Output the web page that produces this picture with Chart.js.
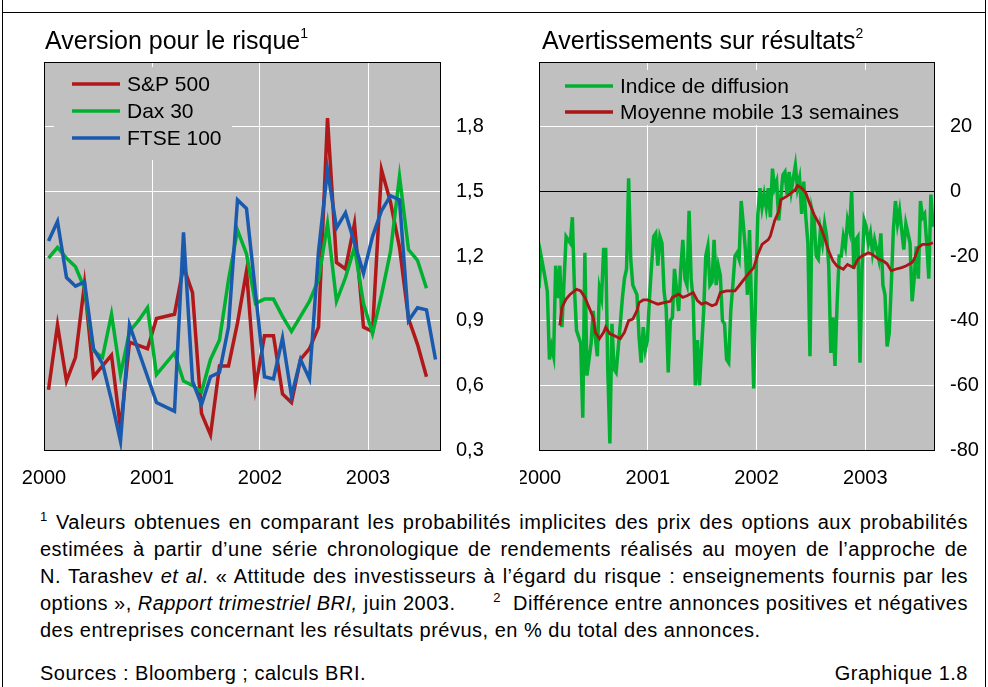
<!DOCTYPE html>
<html lang="fr">
<head>
<meta charset="utf-8">
<title>Graphique 1.8</title>
<script src="https://cdn.jsdelivr.net/npm/chart.js@4.4.1/dist/chart.umd.min.js"></script>
<style>
  html, body { margin: 0; padding: 0; background: #fff; }
  body { width: 988px; height: 687px; position: relative; overflow: hidden;
         font-family: "Liberation Sans", Arial, sans-serif; color: #000; }
  .vline { position: absolute; top: 0; width: 1px; height: 687px; background: #000; }
  .hline { position: absolute; top: 12px; left: 2px; width: 984px; height: 1px; background: #000; }
  .title { position: absolute; top: 25px; font-size: 25px; line-height: 30px; white-space: nowrap; z-index: 2; }
  .title sup { font-size: 14px; line-height: 0; vertical-align: 11px; }
  canvas { position: absolute; }
  .notes { position: absolute; left: 40px; top: 509px; width: 928px; font-size: 20px; line-height: 27px; letter-spacing: 0.5px; }
  .notes .j { text-align: justify; text-align-last: justify; }
  .notes .split { display: flex; justify-content: space-between; white-space: nowrap; }
  .notes sup { font-size: 13px; line-height: 0; vertical-align: 8px; }
  .foot { position: absolute; top: 660px; font-size: 20px; line-height: 27px; letter-spacing: 0.5px; white-space: nowrap; }
</style>
</head>
<body>
<div class="vline" style="left:2px"></div>
<div class="vline" style="left:985px"></div>
<div class="hline"></div>

<div class="title" style="left:45px">Aversion pour le risque<sup>1</sup></div>
<div class="title" style="left:542px">Avertissements sur résultats<sup>2</sup></div>

<canvas id="risk" width="500" height="450" style="left:20px; top:50px"></canvas>
<canvas id="warn" width="468" height="450" style="left:520px; top:50px"></canvas>

<div class="notes">
  <div class="j"><sup>1</sup> Valeurs obtenues en comparant les probabilités implicites des prix des options aux probabilités</div>
  <div class="j">estimées à partir d’une série chronologique de rendements réalisés au moyen de l’approche de</div>
  <div class="j">N. Tarashev <i>et al</i>. « Attitude des investisseurs à l’égard du risque : enseignements fournis par les</div>
  <div class="split"><span>options », <i>Rapport trimestriel BRI,</i> juin 2003.</span><span><sup>2</sup>&nbsp; Différence entre annonces positives et négatives</span></div>
  <div>des entreprises concernant les résultats prévus, en % du total des annonces.</div>
</div>
<div class="foot" style="left:40px">Sources : Bloomberg ; calculs BRI.</div>
<div class="foot" style="right:20px">Graphique 1.8</div>

<script>
// aversion pour le risque, une valeur par mois depuis janvier 2000 (null = pas de point lisible)
const spx = [0.58, 0.88, 0.62, 0.73, 1.07, 0.64, 0.69, 0.74, 0.40, 0.80, null, 0.77,
  0.91, null, 0.93, 1.15, 1.03, 0.47, 0.37, 0.69, 0.69, 0.89, 1.13, 0.59,
  0.83, 0.83, 0.56, 0.52, 0.72, 0.77, 0.87, 1.84, 1.17, 1.14, 1.35, 0.87,
  0.85, 1.60, 1.45, 1.24, 0.91, 0.79, 0.64];
const dax = [1.19, 1.24, 1.19, 1.15, 1.05, 0.76, 0.73, 0.93, 0.65, 0.85, 0.90, 0.96,
  0.65, null, 0.75, 0.62, 0.60, 0.57, 0.72, 0.81, 1.09, 1.32, 1.21, 0.98,
  1.00, 1.00, 0.92, 0.85, 0.92, 0.99, 1.09, 1.35, 0.99, 1.10, 1.24, 0.98,
  0.84, 1.02, 1.22, 1.57, 1.23, 1.18, 1.05];
const ftse = [1.27, 1.36, 1.10, 1.06, 1.08, 0.77, 0.70, 0.53, 0.34, 0.88, null, null,
  0.52, null, 0.48, 1.31, 0.62, 0.51, 0.64, 0.66, 0.87, 1.46, 1.42, null,
  0.64, 0.63, 0.82, 0.55, 0.72, 0.63, 1.22, 1.60, 1.33, 1.40, null, 1.12,
  1.29, 1.41, 1.48, 1.46, 0.90, 0.96, 0.95, 0.72];

// avertissements sur résultats, semaines depuis début 2000
const diffWeeks = [0, 1, 3, 4, 5, 6, 7, 8, 9, 10, 11, 13, 14, 15, 16, 17, 18, 20, 21, 22,
  23, 25, 26, 27, 28, 29, 30, 31, 32, 33, 34, 35, 36, 37, 39, 40, 41, 42, 43, 44,
  45, 47, 48, 49, 50, 51, 52, 53, 54, 55, 56, 57, 58, 59, 60, 61, 62, 63, 64, 65,
  67, 68, 69, 70, 71, 72, 73, 74, 75, 76, 77, 79, 80, 81, 82, 83, 84, 85, 86, 87,
  88, 89, 90, 91, 92, 93, 94, 95, 96, 97, 98, 99, 100, 101, 103, 104, 105, 106, 107, 108,
  109, 110, 111, 112, 113, 114, 115, 116, 117, 118, 119, 120, 121, 122, 123, 124, 125, 126, 127, 128,
  129, 130, 131, 132, 133, 134, 135, 136, 137, 138, 139, 140, 141, 142, 143, 144, 145, 146, 147, 148,
  149, 150, 151, 152, 153, 154, 155, 156, 157, 158, 159, 160, 161, 162, 163, 164, 165, 166, 167, 168,
  169, 170, 171, 172, 173, 174, 175, 176, 177, 178, 179, 180, 181, 182, 183, 184, 185, 186, 187, 188, 189];
const diffValues = [-30, -20, -27, -31, -52, -48, -51, -23, -33, -23, -42, -14, -15, -16, -8, -30, -43, -47, -70, -19,
  -57, -47, -37, -45, -51, -30, -33, -18, -18, -55, -78, -41, -55, -56, -41, -33, -27, -24, 4, -21,
  -29, -32, -45, -53, -42, -49, -46, -33, -23, -14, -13, -23, -14, -16, -31, -36, -56, -40, -39, -24,
  -37, -24, -15, -27, -29, -6, -27, -34, -60, -46, -60, -37, -20, -17, -29, -28, -15, -29, -23, -26,
  -40, -41, -52, -53, -37, -29, -20, -19, -21, -3, -10, -18, -32, -12, -61, -29, -7, 1, -5, -1,
  -5, 1, -8, 7, 1, 3, -9, -2, 5, 6, -1, 6, 0, 4, 8, 1, 4, -7, 3, -8,
  -16, -51, -6, -9, -20, -21, -12, -16, -10, -14, -23, -50, -39, -54, -35, -20, -20, -14, -17, -9,
  -12, 0, -24, -15, -14, -53, -24, -9, -11, -16, -13, -19, -15, -18, -21, -13, -29, -32, -48, -44,
  -29, -12, -3, -10, -6, -12, -18, -10, -13, -16, -34, -27, -17, -27, -3, -8, -7, -16, -27, -1, -11];
const maWeeks = [10, 11, 13, 15, 18, 20, 22, 24, 26, 27, 29, 31, 32, 34, 36, 39, 41, 43, 45, 47,
  48, 50, 52, 55, 57, 60, 63, 64, 67, 69, 71, 74, 76, 78, 80, 83, 85, 87, 90, 94,
  96, 99, 101, 103, 105, 107, 110, 111, 113, 115, 116, 119, 121, 123, 124, 126, 128, 130, 132, 135,
  137, 139, 141, 143, 146, 148, 151, 153, 155, 158, 160, 163, 165, 167, 169, 171, 174, 176, 179, 180,
  182, 184, 187, 189];
const maValues = [-41.5, -35.9, -33.3, -31.8, -30.3, -30.8, -32.8, -35.9, -39, -43.6, -45.6, -43.6, -42, -44.1, -44.6, -45.6, -43.6, -40, -39.5, -36.9,
  -34.4, -33.6, -33.6, -34.4, -34.9, -34.4, -34, -32.8, -31.8, -32.8, -32.3, -31.3, -33.8, -34.9, -34.4, -35.4, -34.9, -31.3, -30.8, -30.8,
  -29.2, -26.7, -25.1, -23.6, -19.5, -16.4, -14.9, -13.8, -9.2, -6.2, -2.6, -1.5, -0.5, 0.5, 1.8, 1, -0.5, -4.1, -7.2, -10.8,
  -14.4, -18.5, -21.5, -23.1, -24.1, -22.6, -23.6, -21, -20, -19, -19.5, -21, -21.5, -22.4, -24.6, -24.1, -23.6, -23.1, -22, -21,
  -17.4, -16.4, -16.4, -15.9];

const years = [2000, 2001, 2002, 2003];
const riskTicks = [0.3, 0.6, 0.9, 1.2, 1.5, 1.8];
const warnTicks = [-80, -60, -40, -20, 0, 20];

const PLOT_BG = '#c0c0c0';
const RED = '#b0181a';
const GREEN = '#00b030';
const BLUE = '#1a5aae';
const FONT = '"Liberation Sans", Arial, sans-serif';

Chart.defaults.font.family = FONT;
Chart.defaults.font.size = 20;
Chart.defaults.color = '#000';

// fond gris, légende encadrée et cadre noir du graphique
const plotFrame = {
  id: 'plotFrame',
  beforeDraw(chart) {
    const { ctx, chartArea: a } = chart;
    ctx.save();
    ctx.fillStyle = PLOT_BG;
    ctx.fillRect(a.left, a.top, a.right - a.left, a.bottom - a.top);
    ctx.restore();
  },
  afterDatasetsDraw(chart, args, opts) {
    const { ctx, chartArea: a } = chart;
    ctx.save();
    ctx.fillStyle = PLOT_BG;
    ctx.fillRect(a.left + opts.boxLeft, a.top + opts.boxTop, opts.boxWidth, opts.boxHeight);
    ctx.font = '21px ' + FONT;
    ctx.textBaseline = 'middle';
    chart.data.datasets.forEach((ds, i) => {
      const y = a.top + opts.firstRow + i * opts.rowGap;
      const x = a.left + opts.lineStart;
      ctx.strokeStyle = ds.borderColor;
      ctx.lineWidth = 3.5;
      ctx.beginPath();
      ctx.moveTo(x, y);
      ctx.lineTo(x + opts.lineLength, y);
      ctx.stroke();
      ctx.fillStyle = '#000';
      ctx.fillText(ds.label, x + opts.lineLength + 7, y + 1);
    });
    ctx.strokeStyle = '#000';
    ctx.lineWidth = 1;
    ctx.strokeRect(a.left + 0.5, a.top + 0.5, a.right - a.left, a.bottom - a.top);
    ctx.restore();
  }
};

function lineSet(label, color, points, width, order) {
  return {
    label, data: points, borderColor: color, borderWidth: width,
    pointRadius: 0, tension: 0, spanGaps: true, order
  };
}

function baseOptions(xMax, perYear, yMin, yMax, yTicks, fmt, yWidth, padLeft, legend) {
  return {
    responsive: false,
    animation: false,
    events: [],
    layout: { padding: { left: padLeft, top: 12, right: 0, bottom: 0 } },
    plugins: { legend: { display: false }, tooltip: { enabled: false }, plotFrame: legend },
    scales: {
      x: {
        type: 'linear', min: 0, max: xMax,
        afterBuildTicks: s => { s.ticks = years.map(y => ({ value: (y - 2000) * perYear })); },
        // taille fixe, sans marge automatique pour les étiquettes
        afterFit: s => { s.height = 50; s.paddingLeft = 0; s.paddingRight = 0; },
        ticks: { padding: 16, maxRotation: 0, autoSkip: false, callback: (v, i) => String(years[i]) },
        grid: { color: '#fff', lineWidth: 1, drawTicks: false },
        border: { display: false }
      },
      y: {
        position: 'right', min: yMin, max: yMax,
        afterBuildTicks: s => { s.ticks = yTicks.map(v => ({ value: v })); },
        afterFit: s => { s.width = yWidth; s.paddingTop = 0; s.paddingBottom = 0; },
        ticks: { padding: 16, callback: fmt },
        grid: { color: c => (c.tick && c.tick.value === 0 ? '#000' : '#fff'), lineWidth: 1, drawTicks: false },
        border: { display: false }
      }
    }
  };
}

const monthly = arr => arr.map((v, i) => ({ x: i + 0.5, y: v }));

new Chart(document.getElementById('risk'), {
  type: 'line',
  data: {
    datasets: [
      lineSet('S&P 500', RED, monthly(spx), 3.5, 2),
      lineSet('Dax 30', GREEN, monthly(dax), 3.5, 1),
      lineSet('FTSE 100', BLUE, monthly(ftse), 3.5, 0)
    ]
  },
  options: baseOptions(44, 12, 0.3, 2.1, riskTicks,
    v => v.toFixed(1).replace('.', ','), 80, 24,
    { boxLeft: 10, boxTop: 5, boxWidth: 178, boxHeight: 93, lineStart: 28, lineLength: 48, firstRow: 22, rowGap: 27 }),
  plugins: [plotFrame]
});

new Chart(document.getElementById('warn'), {
  type: 'line',
  data: {
    datasets: [
      lineSet('Indice de diffusion', GREEN, diffWeeks.map((w, i) => ({ x: w, y: diffValues[i] })), 3.5, 1),
      lineSet('Moyenne mobile 13 semaines', '#a81616', maWeeks.map((w, i) => ({ x: w, y: maValues[i] })), 2.8, 0)
    ]
  },
  options: baseOptions(189.5, 52.18, -80, 40, warnTicks,
    v => String(v), 54, 19,
    { boxLeft: 14, boxTop: 8, boxWidth: 320, boxHeight: 55, lineStart: 26, lineLength: 48, firstRow: 24, rowGap: 26 }),
  plugins: [plotFrame]
});
</script>
</body>
</html>
